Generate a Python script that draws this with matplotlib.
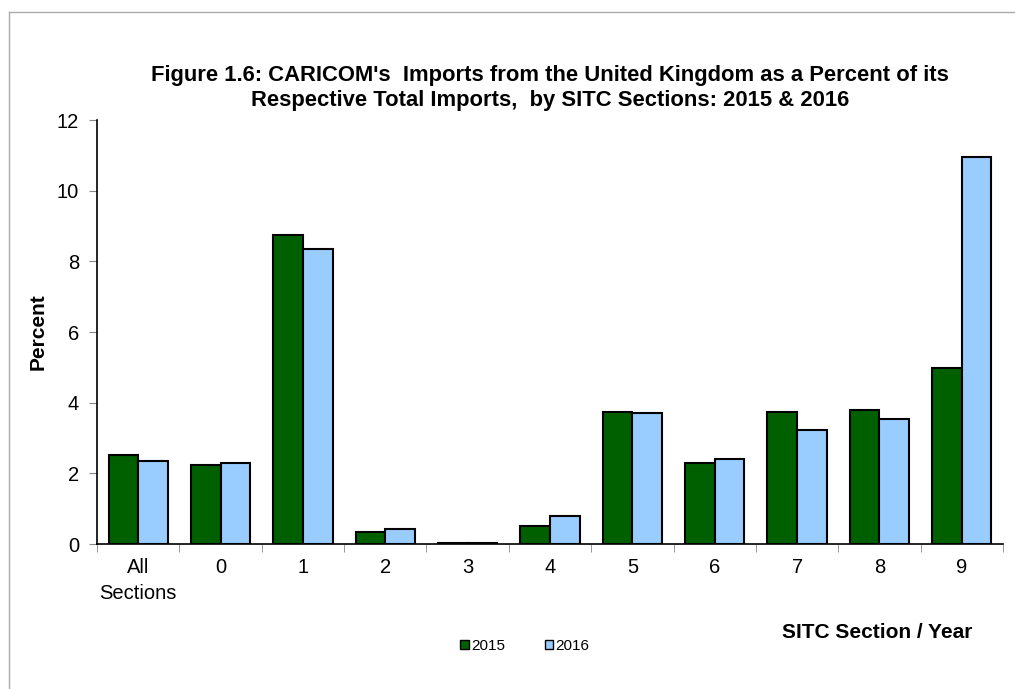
import matplotlib
matplotlib.use("Agg")
import matplotlib.pyplot as plt
import numpy as np
from matplotlib.lines import Line2D

categories = ["All\nSections", "0", "1", "2", "3", "4", "5", "6", "7", "8", "9"]
pct_2015 = [2.52, 2.24, 8.75, 0.34, 0.02, 0.51, 3.74, 2.29, 3.74, 3.80, 4.99]
pct_2016 = [2.35, 2.29, 8.35, 0.42, 0.03, 0.80, 3.72, 2.41, 3.23, 3.54, 10.96]
years = ["2015", "2016"]
colors = ["#006000", "#99CCFF"]

plt.rcParams["font.family"] = ["Liberation Sans", "DejaVu Sans"]

fig = plt.figure(figsize=(10.15, 6.89), dpi=100)
ax = fig.add_axes([97 / 1015, 1 - 544 / 689, 906 / 1015, 424 / 689])

x = np.arange(len(categories))
w = 0.36
ax.bar(x - w / 2, pct_2015, w, color=colors[0], edgecolor="black", linewidth=1.5, label=years[0])
ax.bar(x + w / 2, pct_2016, w, color=colors[1], edgecolor="black", linewidth=1.5, label=years[1])

ax.set_xlim(-0.5, len(categories) - 0.5)
ax.set_ylim(0, 12)
ax.set_yticks(range(0, 13, 2))
ax.set_xticks(x)
ax.set_xticklabels(categories, fontsize=14.5, linespacing=1.45)
ax.tick_params(axis="x", length=0, pad=10)
ax.set_xticks(np.arange(-0.5, len(categories), 1), minor=True)
ax.tick_params(axis="x", which="minor", length=6, color="#888888")
ax.tick_params(axis="y", labelsize=14.5, length=6, color="#888888", pad=7)
for s in ["top", "right"]:
    ax.spines[s].set_visible(False)
ax.spines["left"].set_linewidth(1.2)
ax.spines["bottom"].set_linewidth(1.2)

ax.set_ylabel("Percent", fontsize=15, fontweight="bold")
ax.yaxis.set_label_coords(-0.054, 0.5)

fig.text(0.542, 1 - 88 / 689,
         "Figure 1.6: CARICOM's  Imports from the United Kingdom as a Percent of its\n"
         "Respective Total Imports,  by SITC Sections: 2015 & 2016",
         ha="center", va="center", fontsize=15.8, fontweight="bold", linespacing=1.25)
fig.text(972 / 1015, 1 - 632 / 689, "SITC Section / Year", ha="right", va="center",
         fontsize=15, fontweight="bold")

handles = [plt.Rectangle((0, 0), 1, 1, facecolor=c, edgecolor="black", linewidth=1) for c in colors]
fig.legend(handles, years, loc="center", bbox_to_anchor=(525 / 1015, 1 - 646 / 689), ncol=2,
           frameon=False, fontsize=11, handlelength=0.55, handleheight=0.6, handletextpad=0.15,
           columnspacing=2.6)

# chart area border (top and left visible)
fig.add_artist(Line2D([9 / 1015, 1], [1 - 12 / 689, 1 - 12 / 689], color="#aaaaaa", linewidth=1,
                      transform=fig.transFigure))
fig.add_artist(Line2D([9 / 1015, 9 / 1015], [0, 1 - 12 / 689], color="#aaaaaa", linewidth=1,
                      transform=fig.transFigure))

fig.savefig("out.png", dpi=100)
